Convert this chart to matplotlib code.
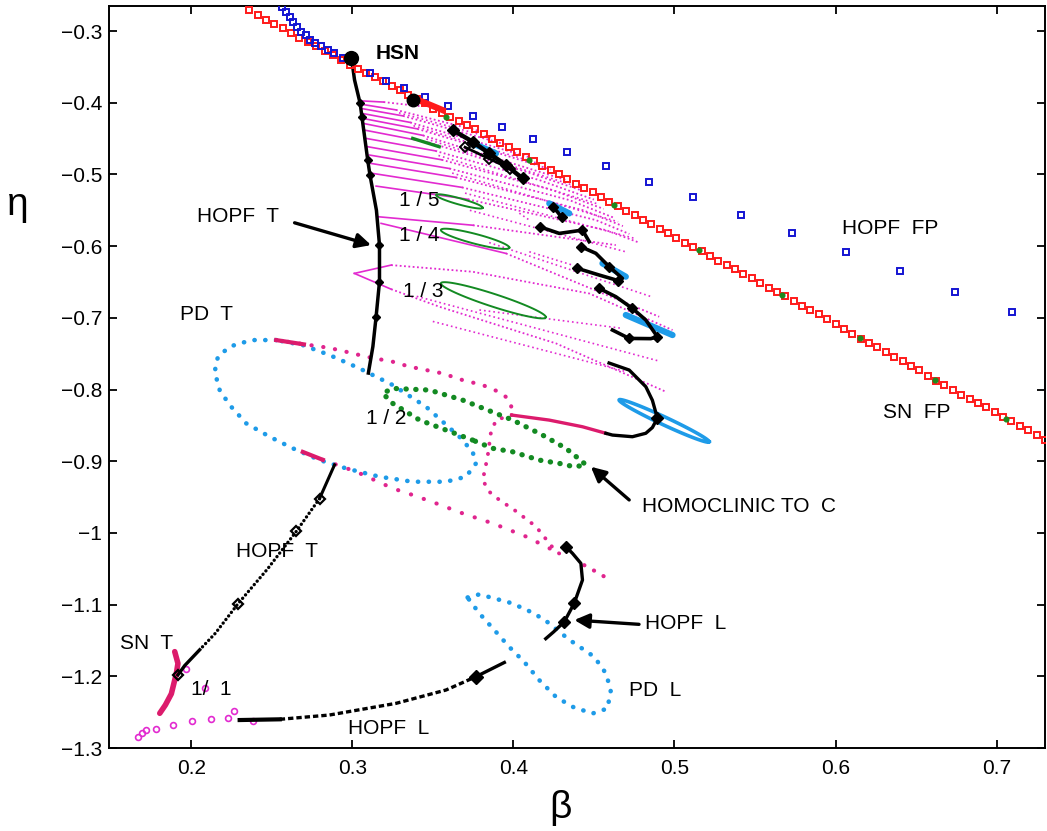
import matplotlib
matplotlib.use("Agg")
import matplotlib.pyplot as plt
import numpy as np

plt.rcParams["font.family"] = ["Liberation Sans", "DejaVu Sans"]

# ---- fixed-point branches ----------------------------------------------------
sn_fp_beta = [
    0.236, 0.2412, 0.2464, 0.2516, 0.2568, 0.262, 0.2672, 0.2724, 0.2776, 0.2828,
    0.288, 0.2932, 0.2984, 0.3036, 0.3088, 0.314, 0.3192, 0.3244, 0.3296, 0.3348,
    0.340, 0.3452, 0.3504, 0.3556, 0.3608, 0.366, 0.3712, 0.3764, 0.3816, 0.3868,
    0.392, 0.3972, 0.4024, 0.4076, 0.4128, 0.418, 0.4232, 0.4284, 0.4336, 0.4388,
    0.444, 0.4492, 0.4544, 0.4596, 0.4648, 0.470, 0.4752, 0.4804, 0.4856, 0.4908,
    0.496, 0.5012, 0.5064, 0.5116, 0.5168, 0.522, 0.5272, 0.5324, 0.5376, 0.5428,
    0.548, 0.5532, 0.5584, 0.5636, 0.5688, 0.574, 0.5792, 0.5844, 0.5896, 0.5948,
    0.600, 0.6052, 0.6104, 0.6156, 0.6208, 0.626, 0.6312, 0.6364, 0.6416, 0.6468,
    0.652, 0.6572, 0.6624, 0.6676, 0.6728, 0.678, 0.6832, 0.6884, 0.6936, 0.6988,
    0.704, 0.7092, 0.7144, 0.7196, 0.7248, 0.730,
]
sn_fp_eta = [
    -0.271, -0.277, -0.284, -0.290, -0.296, -0.302, -0.309, -0.315, -0.321, -0.328,
    -0.334, -0.340, -0.347, -0.353, -0.359, -0.364, -0.370, -0.376, -0.382, -0.389,
    -0.395, -0.401, -0.408, -0.414, -0.420, -0.425, -0.431, -0.437, -0.443, -0.450,
    -0.456, -0.462, -0.469, -0.475, -0.481, -0.488, -0.494, -0.500, -0.506, -0.513,
    -0.519, -0.525, -0.532, -0.538, -0.544, -0.551, -0.557, -0.563, -0.569, -0.576,
    -0.582, -0.588, -0.595, -0.601, -0.607, -0.614, -0.620, -0.626, -0.632, -0.639,
    -0.645, -0.651, -0.658, -0.664, -0.670, -0.677, -0.683, -0.689, -0.695, -0.702,
    -0.708, -0.716, -0.723, -0.729, -0.735, -0.741, -0.748, -0.754, -0.760, -0.767,
    -0.773, -0.781, -0.788, -0.794, -0.800, -0.807, -0.813, -0.819, -0.825, -0.832,
    -0.838, -0.844, -0.851, -0.857, -0.863, -0.870,
]
sn_fp_green_beta = [0.358, 0.410, 0.4624, 0.5153, 0.5665, 0.615, 0.6616, 0.7058]
sn_fp_green_eta = [-0.4195, -0.480, -0.5427, -0.6054, -0.668, -0.7277, -0.7865, -0.8411]

hopf_fp_beta = [
    0.2565, 0.2586, 0.2611, 0.2631, 0.2658, 0.2683, 0.2710, 0.2735, 0.2766, 0.2807,
    0.2848, 0.2885, 0.2941, 0.3107, 0.3210, 0.3324, 0.3450, 0.3592, 0.3747, 0.3928,
    0.4122, 0.4336, 0.4578, 0.4840, 0.5117, 0.5415, 0.5731, 0.6062, 0.6397, 0.6744,
    0.7095,
]
hopf_fp_eta = [
    -0.266, -0.273, -0.280, -0.287, -0.294, -0.301, -0.306, -0.312, -0.316, -0.321,
    -0.3265, -0.331, -0.338, -0.358, -0.370, -0.380, -0.392, -0.405, -0.419, -0.434,
    -0.451, -0.469, -0.488, -0.510, -0.532, -0.556, -0.581, -0.608, -0.635, -0.664,
    -0.692,
]

hsn_point = (0.2993, -0.338)

# ---- torus Hopf curve (upper part) -------------------------------------------
hopf_t_beta = [0.2993, 0.3003, 0.3014, 0.3049, 0.3060, 0.3096, 0.3110, 0.3150,
               0.3169, 0.3169, 0.3148, 0.3128, 0.3100]
hopf_t_eta = [-0.338, -0.350, -0.368, -0.401, -0.4195, -0.480, -0.501, -0.550,
              -0.5985, -0.6496, -0.6984, -0.740, -0.777]
hopf_t_marks = [3, 4, 5, 6, 8, 9, 10]

# ---- resonance tongues (magenta fan) -----------------------------------------
# solid from the first to the second point, dotted afterwards
fan_beta = [
    [0.3045, 0.3194, 0.3417],
    [0.3049, 0.3271, 0.3603, 0.3800],
    [0.3055, 0.3315, 0.3706, 0.3950],
    [0.3061, 0.3360, 0.3809, 0.4100],
    [0.3065, 0.3404, 0.3913, 0.4230],
    [0.3069, 0.3439, 0.3995, 0.4330],
    [0.3076, 0.3477, 0.4078, 0.4420],
    [0.3086, 0.3516, 0.4161, 0.4500],
    [0.3096, 0.3555, 0.4243, 0.4560],
    [0.3107, 0.3603, 0.4347, 0.4620],
    [0.3117, 0.3642, 0.4430, 0.4680],
    [0.3127, 0.3681, 0.4512, 0.4720],
    [0.3148, 0.3718, 0.4574, 0.4780],
    [0.3158, 0.3749, 0.4636],
    [0.3179, 0.3954, 0.4905],
    [0.3013, 0.3241, 0.3747, 0.4471, 0.4988],
    [0.3013, 0.3241, 0.3541, 0.4264, 0.4946],
]
fan_eta = [
    [-0.3972, -0.3990, -0.4046],
    [-0.4018, -0.4099, -0.4288, -0.4400],
    [-0.4079, -0.4183, -0.4427, -0.4580],
    [-0.4148, -0.4274, -0.4567, -0.4760],
    [-0.4218, -0.4364, -0.4706, -0.4930],
    [-0.4288, -0.4455, -0.4846, -0.5080],
    [-0.4381, -0.4555, -0.4962, -0.5220],
    [-0.4497, -0.4671, -0.5078, -0.5350],
    [-0.4613, -0.4795, -0.5218, -0.5480],
    [-0.4729, -0.4917, -0.5357, -0.5600],
    [-0.4846, -0.5041, -0.5497, -0.5720],
    [-0.4985, -0.5180, -0.5636, -0.5830],
    [-0.5162, -0.5346, -0.5776, -0.5950],
    [-0.5589, -0.5708, -0.5985],
    [-0.5682, -0.6101, -0.6984],
    [-0.6380, -0.6264, -0.6357, -0.6660, -0.7170],
    [-0.6380, -0.6600, -0.6845, -0.7356, -0.8030],
]
fan_dotted_beta = [
    [0.3290, 0.3870], [0.3380, 0.4160], [0.3460, 0.4370], [0.3535, 0.4530],
    [0.3620, 0.4650], [0.3700, 0.4750], [0.3730, 0.4700], [0.3850, 0.4850],
    [0.3400, 0.4900], [0.3500, 0.4700], [0.3789, 0.4677], [0.4099, 0.4367],
    [0.4037, 0.4099],
]
fan_dotted_eta = [
    [-0.4140, -0.4490], [-0.4320, -0.4850], [-0.4505, -0.5150], [-0.4735, -0.5415],
    [-0.4980, -0.5660], [-0.5260, -0.5890], [-0.5500, -0.6080], [-0.5950, -0.6700],
    [-0.6700, -0.7600], [-0.7050, -0.7750], [-0.6890, -0.7147], [-0.6078, -0.6264],
    [-0.5540, -0.5636],
]

# green closed orbits inside the tongues: (left tip, right tip, half width)
tongue_labels = ["1 / 5", "1 / 4", "1 / 3"]
tongue_label_beta = [0.3293, 0.3293, 0.3313]
tongue_label_eta = [-0.5366, -0.5845, -0.6636]
orbit_left = [(0.352, -0.5287), (0.355, -0.5775), (0.355, -0.652)]
orbit_right = [(0.381, -0.5464), (0.3975, -0.602), (0.4202, -0.699)]
orbit_half = [0.0045, 0.007, 0.0093]
small_green_beta = [0.3375, 0.354]
small_green_eta = [-0.4497, -0.4613]

# ---- black / blue pieces along the upper-right ---------------------------------
cluster_beta = [0.3623, 0.3747, 0.3851, 0.3954, 0.4057]
cluster_eta = [-0.438, -0.4543, -0.4706, -0.4869, -0.5055]
cluster2_beta = [0.3700, 0.3850, 0.3980]
cluster2_eta = [-0.462, -0.478, -0.492]
zig_beta = [
    [0.4243, 0.4273, 0.4300],
    [0.4163, 0.4285, 0.4429, 0.4471],
    [0.4419, 0.4512, 0.4595, 0.4677, 0.4650, 0.4533, 0.4398],
    [0.4533, 0.4636, 0.4739, 0.4822, 0.4894, 0.4853, 0.4719, 0.4615],
]
zig_eta = [
    [-0.545, -0.552, -0.560],
    [-0.5729, -0.5822, -0.5776, -0.5938],
    [-0.6008, -0.6100, -0.6286, -0.6450, -0.6480, -0.6403, -0.6310],
    [-0.6589, -0.6705, -0.6868, -0.7030, -0.7264, -0.7290, -0.7287, -0.7170],
]
blue_seg_beta = [[0.3747, 0.3892], [0.4223, 0.4347], [0.4553, 0.4698], [0.4698, 0.4988]]
blue_seg_eta = [[-0.4566, -0.4706], [-0.5404, -0.5543], [-0.6240, -0.6426], [-0.6960, -0.7240]]
red_seg_beta = [0.3437, 0.3561]
red_seg_eta = [-0.3986, -0.4102]
blob_point = (0.3375, -0.396)

black_arc_beta = [0.4594, 0.4719, 0.4822, 0.4863, 0.4894, 0.4863, 0.4822, 0.4739, 0.4615, 0.4574]
black_arc_eta = [-0.763, -0.7728, -0.796, -0.815, -0.840, -0.853, -0.861, -0.8658, -0.8635, -0.861]
blue_loop_left = (0.4656, -0.8146)
blue_loop_right = (0.5215, -0.8728)

# ---- period doubling of the torus (PD T) ---------------------------------------
pd_t_beta = [0.2528, 0.2383, 0.2301, 0.2239, 0.2166, 0.2146, 0.2177, 0.2239, 0.2342,
             0.2487, 0.2631, 0.2797, 0.2962, 0.3169, 0.3375, 0.3582, 0.3706, 0.3768,
             0.3747, 0.3665, 0.3458, 0.3251, 0.3045, 0.2859, 0.2693, 0.2528]
pd_t_eta = [-0.731, -0.731, -0.7356, -0.7403, -0.7542, -0.7752, -0.8007, -0.8216, -0.8472,
            -0.8658, -0.882, -0.8983, -0.910, -0.9216, -0.9286, -0.9286, -0.9216, -0.903,
            -0.8868, -0.8658, -0.824, -0.7937, -0.7705, -0.7519, -0.738, -0.731]

pd_upper_beta = [0.2528, 0.2693, 0.2859, 0.2962, 0.3086, 0.3251, 0.3354, 0.3561,
                 0.3685, 0.3809, 0.3933, 0.3985, 0.3990]
pd_upper_eta = [-0.731, -0.7365, -0.742, -0.7473, -0.7542, -0.7612, -0.768, -0.7775,
                -0.7868, -0.7937, -0.8054, -0.818, -0.8356]
pd_inner_beta = [0.3990, 0.3892, 0.3860, 0.3840, 0.3810, 0.3850, 0.3913, 0.4006,
                 0.4140, 0.4264, 0.4326]
pd_inner_eta = [-0.8356, -0.8425, -0.861, -0.8937, -0.9263, -0.9425, -0.954, -0.968,
                -0.991, -1.026, -1.034]
pd_lower_beta = [0.2817, 0.3024, 0.3251, 0.3375, 0.3520, 0.3685, 0.3871, 0.4078, 0.4264]
pd_lower_eta = [-0.898, -0.9146, -0.9378, -0.9471, -0.9587, -0.9727, -0.9866, -1.005, -1.026]
pd_tail_beta = [0.4440, 0.4532, 0.4615]
pd_tail_eta = [-1.045, -1.0564, -1.068]
crimson_beta = [0.3990, 0.4222, 0.4429, 0.4574]
crimson_eta = [-0.8356, -0.8426, -0.8519, -0.861]
crimson_short_beta = [0.2693, 0.2817]
crimson_short_eta = [-0.887, -0.898]
crimson_top_beta = [0.2528, 0.2700]
crimson_top_eta = [-0.731, -0.737]

# ---- homoclinic orbit to C (1/2) -----------------------------------------------
homoc_beta = [0.3747, 0.3582, 0.3417, 0.3251, 0.3189, 0.3251, 0.3479, 0.3685, 0.3892,
              0.3995, 0.4181, 0.4326, 0.4429, 0.4450, 0.4377, 0.4285, 0.4160, 0.3995,
              0.3871, 0.3747]
homoc_eta = [-0.8705, -0.8565, -0.8425, -0.8193, -0.8053, -0.7984, -0.8007, -0.8147,
             -0.8333, -0.8425, -0.8635, -0.882, -0.9007, -0.9053, -0.9077, -0.903,
             -0.8984, -0.8868, -0.882, -0.8705]

# ---- lower part: torus Hopf, limit-cycle Hopf, PD L, SN T ----------------------
hopf_t_low_beta = [0.289, 0.2797, 0.2652, 0.2475, 0.229, 0.2150, 0.2053, 0.1960, 0.1918]
hopf_t_low_eta = [-0.905, -0.952, -0.998, -1.050, -1.099, -1.140, -1.163, -1.185, -1.198]
hopf_t_low_marks = [1, 2, 4, 8]

hopf_l_low_beta = [0.2301, 0.2550, 0.2858, 0.3272, 0.3582, 0.3768, 0.3944]
hopf_l_low_eta = [-1.261, -1.260, -1.254, -1.2377, -1.2191, -1.2005, -1.1807]
hopf_l_up_beta = [0.4201, 0.4250, 0.4316, 0.4378, 0.4429, 0.4419, 0.4367, 0.4326]
hopf_l_up_eta = [-1.1475, -1.138, -1.124, -1.098, -1.0657, -1.0424, -1.0285, -1.0192]

pd_l_beta = [0.3716, 0.3789, 0.3974, 0.4078, 0.4191, 0.4347, 0.4502, 0.4574, 0.4605,
             0.4584, 0.4491, 0.4367, 0.4264, 0.4161, 0.4067, 0.3974, 0.3892, 0.3799,
             0.3737, 0.3716]
pd_l_eta = [-1.090, -1.0857, -1.097, -1.1066, -1.1206, -1.149, -1.1728, -1.1958, -1.2194,
            -1.2449, -1.2519, -1.2425, -1.2286, -1.2054, -1.1798, -1.1589, -1.138, -1.1147,
            -1.097, -1.090]

sn_t_beta = [0.1898, 0.1918, 0.1908, 0.1877, 0.1840, 0.1805]
sn_t_eta = [-1.1656, -1.182, -1.196, -1.2244, -1.240, -1.2516]
one_one_beta = [0.1670, 0.1697, 0.1722, 0.1784, 0.1887, 0.2005, 0.2121, 0.2228, 0.2266,
                0.2383, 0.2084, 0.1970]
one_one_eta = [-1.2842, -1.2795, -1.275, -1.274, -1.268, -1.2624, -1.2596, -1.2586,
               -1.2484, -1.262, -1.2168, -1.190]

# ---- labels --------------------------------------------------------------------
labels = ["HOPF  T", "PD  T", "1 / 2", "HOMOCLINIC TO  C", "HOPF  FP", "SN  FP",
          "HOPF  T", "SN  T", "1/  1", "HOPF  L", "HOPF  L", "PD  L"]
label_beta = [0.2034, 0.1929, 0.3086, 0.4800, 0.6041, 0.6296, 0.2280, 0.1557, 0.2001,
              0.4818, 0.2972, 0.4719]
label_eta = [-0.559, -0.696, -0.840, -0.963, -0.5752, -0.8323, -1.026, -1.154, -1.219,
             -1.127, -1.2725, -1.2194]
arrow_tails = [(0.2642, -0.5674), (0.4719, -0.954), (0.478, -1.1275)]
arrow_heads = [(0.3117, -0.5985), (0.4481, -0.9077), (0.4378, -1.1215)]

x_ticks = [0.2, 0.3, 0.4, 0.5, 0.6, 0.7]
y_ticks = [-1.3, -1.2, -1.1, -1.0, -0.9, -0.8, -0.7, -0.6, -0.5, -0.4, -0.3]
y_tick_labels = ["\u22121.3", "\u22121.2", "\u22121.1", "\u22121", "\u22120.9", "\u22120.8",
                 "\u22120.7", "\u22120.6", "\u22120.5", "\u22120.4", "\u22120.3"]

BLUE_DOT = "#1e9be8"
MAGENTA = "#e22ad0"
PINK = "#e0258e"
CRIMSON = "#dc1b6c"
GREEN = "#138a22"


def tip_ellipse(left, right, half, n=80):
    t = np.linspace(0, 2 * np.pi, n)
    cx, cy = (left[0] + right[0]) / 2, (left[1] + right[1]) / 2
    ax_, ay_ = (right[0] - left[0]) / 2, (right[1] - left[1]) / 2
    return cx + np.cos(t) * ax_, cy + np.cos(t) * ay_ + np.sin(t) * half


def dots(ax, xs, ys, color, lw, gap, z=3):
    ax.plot(xs, ys, color=color, lw=lw, ls=(0, (0.05, gap)),
            dash_capstyle="round", zorder=z)


fig = plt.figure(figsize=(10.47, 8.31), dpi=100)
ax = fig.add_axes([109 / 1047, 83 / 831, 936 / 1047, 742 / 831])

# magenta resonance fan
for bs, es in zip(fan_beta, fan_eta):
    ax.plot(bs[:2], es[:2], color=MAGENTA, lw=1.2, zorder=2)
    ax.plot(bs[1:], es[1:], color=MAGENTA, lw=1.3, ls=(0, (1.0, 1.4)), zorder=2)
for bs, es in zip(fan_dotted_beta, fan_dotted_eta):
    ax.plot(bs, es, color=MAGENTA, lw=1.2, ls=(0, (1.0, 1.8)), zorder=2)

# green orbits in the tongues
for lft, rgt, h in zip(orbit_left, orbit_right, orbit_half):
    ex, ey = tip_ellipse(lft, rgt, h)
    ax.plot(ex, ey, color=GREEN, lw=1.4, zorder=3)
ax.plot(small_green_beta, small_green_eta, color=GREEN, lw=2.4, zorder=3)

# PD T loop and the pink period-doubling curves
dots(ax, pd_t_beta, pd_t_eta, BLUE_DOT, 3.3, 2.3)
dots(ax, pd_upper_beta, pd_upper_eta, PINK, 3.0, 2.8)
dots(ax, pd_inner_beta, pd_inner_eta, PINK, 2.8, 2.6)
dots(ax, pd_lower_beta, pd_lower_eta, PINK, 3.0, 3.2)
dots(ax, pd_tail_beta, pd_tail_eta, PINK, 3.0, 2.6)
ax.plot(crimson_beta, crimson_eta, color=CRIMSON, lw=2.4, zorder=3)
ax.plot(crimson_short_beta, crimson_short_eta, color=CRIMSON, lw=3.0, zorder=3)
ax.plot(crimson_top_beta, crimson_top_eta, color=CRIMSON, lw=3.0, zorder=3)

# homoclinic orbit, 1/2
dots(ax, homoc_beta, homoc_eta, GREEN, 3.8, 1.8, z=4)

# PD L loop
dots(ax, pd_l_beta, pd_l_eta, BLUE_DOT, 3.3, 2.3)

# SN T and 1/1 points
ax.plot(sn_t_beta, sn_t_eta, color=CRIMSON, lw=4.0, solid_capstyle="round", zorder=4)
ax.plot(one_one_beta, one_one_eta, ls="none", marker="o", ms=4.2, mfc="none",
        mec=MAGENTA, mew=1.2, zorder=4)

# torus Hopf curves
ax.plot(hopf_t_beta, hopf_t_eta, color="k", lw=2.5, zorder=5)
ax.plot([hopf_t_beta[i] for i in hopf_t_marks], [hopf_t_eta[i] for i in hopf_t_marks],
        ls="none", marker="D", ms=4.5, color="k", zorder=5)
ax.plot(hopf_t_low_beta[:2], hopf_t_low_eta[:2], color="k", lw=2.2, zorder=5)
dots(ax, hopf_t_low_beta[1:7], hopf_t_low_eta[1:7], "k", 2.4, 1.3, z=5)
ax.plot(hopf_t_low_beta[6:], hopf_t_low_eta[6:], color="k", lw=2.4, zorder=5)
ax.plot([hopf_t_low_beta[i] for i in hopf_t_low_marks],
        [hopf_t_low_eta[i] for i in hopf_t_low_marks],
        ls="none", marker="D", ms=5, mfc="none", mec="k", mew=1.6, zorder=5)

# limit-cycle Hopf curves
ax.plot(hopf_l_low_beta[:2], hopf_l_low_eta[:2], color="k", lw=3.0, zorder=5)
ax.plot(hopf_l_low_beta[1:6], hopf_l_low_eta[1:6], color="k", lw=2.4,
        ls=(0, (1.6, 0.9)), zorder=5)
ax.plot(hopf_l_low_beta[5:], hopf_l_low_eta[5:], color="k", lw=2.4, zorder=5)
ax.plot([hopf_l_low_beta[5]], [hopf_l_low_eta[5]], marker="D", ms=7, color="k", zorder=5)
ax.plot(hopf_l_up_beta, hopf_l_up_eta, color="k", lw=2.4, zorder=5)
ax.plot([hopf_l_up_beta[2], hopf_l_up_beta[3], hopf_l_up_beta[7]],
        [hopf_l_up_eta[2], hopf_l_up_eta[3], hopf_l_up_eta[7]],
        ls="none", marker="D", ms=6, color="k", zorder=5)

# black/blue pieces on the upper right
for bs, es in zip(blue_seg_beta, blue_seg_eta):
    ax.plot(bs, es, color=BLUE_DOT, lw=4.5, solid_capstyle="round", zorder=5)
ax.plot(cluster_beta, cluster_eta, color="k", lw=3.2, marker="D", ms=6, zorder=6)
ax.plot(cluster2_beta, cluster2_eta, color="k", lw=2.0, marker="D", ms=5,
        mfc="none", mew=1.4, zorder=6)
for bs, es in zip(zig_beta, zig_eta):
    ax.plot(bs, es, color="k", lw=2.6, marker="D", ms=5, markevery=2, zorder=6)
ax.plot(black_arc_beta, black_arc_eta, color="k", lw=2.4, zorder=6)
ax.plot([black_arc_beta[4]], [black_arc_eta[4]], marker="D", ms=6, color="k", zorder=6)
bx, by = tip_ellipse(blue_loop_left, blue_loop_right, 0.006)
ax.plot(bx, by, color=BLUE_DOT, lw=2.6, zorder=5)

# fixed-point bifurcation curves
ax.plot(sn_fp_beta, sn_fp_eta, ls="none", marker="s", ms=4.7, mfc="none",
        mec="#ff1a1a", mew=1.4, zorder=7)
ax.plot(hopf_fp_beta, hopf_fp_eta, ls="none", marker="s", ms=5.0, mfc="none",
        mec="#1414d2", mew=1.4, zorder=7)
ax.plot(sn_fp_green_beta, sn_fp_green_eta, ls="none", marker="o", ms=3.4,
        color="#1d8a1d", zorder=8)
ax.plot(red_seg_beta, red_seg_eta, color="#ff1a1a", lw=4.5, zorder=8)
ax.plot(*blob_point, marker="o", ms=9, color="k", zorder=8)
ax.plot(*hsn_point, marker="o", ms=10, color="k", zorder=9)
ax.text(0.3148, -0.331, "HSN", fontsize=15, fontweight="bold", va="center", ha="left")

# labels and arrows
for txt, bx_, by_ in zip(labels, label_beta, label_eta):
    ax.text(bx_, by_, txt, fontsize=15, va="center", ha="left", zorder=10)
for txt, bx_, by_ in zip(tongue_labels, tongue_label_beta, tongue_label_eta):
    ax.text(bx_, by_, txt, fontsize=15, va="center", ha="left", zorder=10)
for tail, head in zip(arrow_tails, arrow_heads):
    ax.annotate("", xy=head, xytext=tail,
                arrowprops=dict(arrowstyle="-|>", color="k", lw=2.4,
                                mutation_scale=22, shrinkA=0, shrinkB=0))

ax.set_xlim(0.149, 0.73)
ax.set_ylim(-1.3, -0.265)
ax.set_xticks(x_ticks)
ax.set_xticklabels([str(v) for v in x_ticks])
ax.set_yticks(y_ticks)
ax.set_yticklabels(y_tick_labels)
ax.tick_params(direction="in", top=True, right=True, length=6, width=1.3,
               labelsize=15)
ax.tick_params(axis="x", pad=8)
ax.tick_params(axis="y", pad=5)
for sp in ax.spines.values():
    sp.set_linewidth(1.4)

fig.text(18 / 1047, 1 - 205 / 831, "\u03b7", fontsize=28, ha="center", va="center")
fig.text(560 / 1047, 1 - 808 / 831, "\u03b2", fontsize=28, ha="center", va="center")

fig.savefig("out.png", dpi=100)
